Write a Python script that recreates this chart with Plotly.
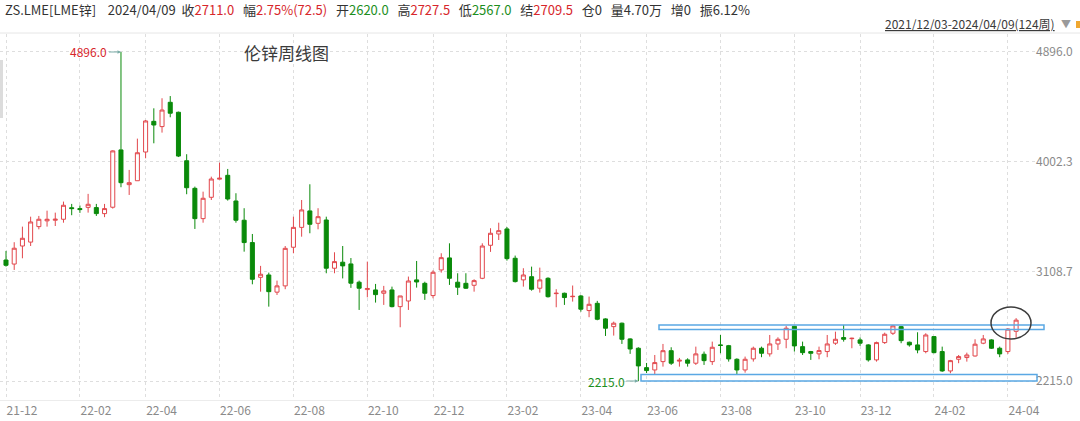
import plotly.graph_objects as go
import pandas as pd

# ---------------- data ----------------
week_dates = [d.strftime('%Y-%m-%d') for d in pd.date_range('2021-12-03', periods=123, freq='7D')] + ['2024-04-09']

open_px = [3201, 3168, 3315, 3347, 3473, 3520, 3525, 3533, 3627, 3620,
           3630, 3628, 3579, 3631, 4098, 3815, 3847, 4081, 4331, 4288,
           4486, 4405, 4010, 3785, 3538, 3712, 3860, 3891, 3682, 3525,
           3343, 3060, 3079, 2939, 2990, 3305, 3467, 3601, 3500, 3527,
           3134, 3183, 3169, 3020, 2960, 2957, 2930, 2957, 2821, 2867,
           3039, 3011, 2911, 3120, 3218, 3020, 3011, 2995, 3052, 3321,
           3413, 3454, 3215, 3039, 3065, 2971, 3052, 2927, 2930, 2902,
           2908, 2789, 2848, 2721, 2658, 2686, 2558, 2482, 2324, 2305,
           2373, 2462, 2377, 2387, 2360, 2433, 2373, 2509, 2503, 2392,
           2305, 2395, 2482, 2436, 2517, 2555, 2661, 2495, 2455, 2436,
           2455, 2523, 2569, 2560, 2550, 2509, 2387, 2528, 2604, 2658,
           2531, 2509, 2455, 2577, 2455, 2297, 2392, 2406, 2419, 2523,
           2550, 2482, 2455, 2620]
high_px = [3275, 3346, 3473, 3554, 3560, 3603, 3587, 3677, 3658, 3645,
           3740, 3658, 3658, 4095, 4896, 3935, 4190, 4342, 4437, 4519,
           4537, 4410, 4063, 3799, 3758, 3880, 3994, 3943, 3745, 3623,
           3413, 3153, 3098, 3033, 3315, 3554, 3690, 3818, 3623, 3554,
           3264, 3315, 3217, 3033, 3188, 3006, 2990, 2984, 2908, 3066,
           3193, 3024, 3117, 3256, 3337, 3093, 3093, 3044, 3337, 3460,
           3505, 3470, 3237, 3134, 3147, 3139, 3060, 2963, 2935, 2993,
           2916, 2903, 2868, 2726, 2699, 2691, 2563, 2490, 2362, 2427,
           2517, 2490, 2403, 2400, 2495, 2455, 2536, 2590, 2509, 2400,
           2414, 2495, 2495, 2590, 2571, 2664, 2664, 2536, 2460, 2495,
           2590, 2617, 2672, 2568, 2570, 2515, 2536, 2609, 2672, 2664,
           2536, 2612, 2604, 2580, 2495, 2387, 2427, 2446, 2555, 2590,
           2555, 2495, 2645, 2727.5]
low_px = [3147, 3120, 3215, 3315, 3451, 3473, 3478, 3505, 3566, 3585,
          3587, 3560, 3550, 3620, 3794, 3731, 3847, 4030, 4152, 4239,
          4364, 4040, 3737, 3454, 3505, 3690, 3857, 3685, 3505, 3269,
          3003, 2943, 2821, 2916, 2963, 3256, 3391, 3419, 3451, 3093,
          3093, 3051, 2974, 2794, 2897, 2854, 2835, 2815, 2653, 2794,
          2976, 2876, 2889, 3098, 2998, 2916, 2965, 2943, 3045, 3267,
          3364, 3196, 3018, 2984, 2951, 2935, 2895, 2816, 2835, 2862,
          2780, 2735, 2710, 2582, 2585, 2517, 2436, 2215, 2280, 2265,
          2332, 2346, 2332, 2332, 2346, 2346, 2346, 2441, 2373, 2265,
          2283, 2373, 2409, 2414, 2468, 2482, 2455, 2427, 2387, 2392,
          2409, 2509, 2536, 2482, 2501, 2373, 2373, 2517, 2590, 2523,
          2495, 2441, 2441, 2441, 2290, 2278, 2360, 2373, 2414, 2515,
          2476, 2409, 2436, 2567]
close_px = [3158, 3297, 3378, 3511, 3533, 3533, 3533, 3647, 3620, 3612,
            3655, 3579, 3620, 4090, 3831, 3831, 4075, 4334, 4301, 4423,
            4397, 4048, 3790, 3538, 3704, 3861, 3867, 3698, 3525, 3343,
            3044, 3085, 2943, 2990, 3296, 3467, 3609, 3492, 3554, 3134,
            3188, 3153, 3012, 2971, 2969, 2919, 2949, 2821, 2908, 3030,
            3022, 2930, 3101, 3220, 3052, 2979, 2971, 3033, 3315, 3419,
            3440, 3212, 3025, 3079, 2963, 3039, 2902, 2930, 2895, 2905,
            2800, 2840, 2718, 2645, 2686, 2555, 2476, 2338, 2300, 2365,
            2462, 2360, 2384, 2360, 2436, 2381, 2490, 2505, 2395, 2305,
            2392, 2482, 2441, 2517, 2555, 2645, 2501, 2446, 2441, 2463,
            2517, 2555, 2555, 2563, 2523, 2387, 2528, 2596, 2664, 2544,
            2509, 2468, 2590, 2446, 2297, 2381, 2414, 2427, 2515, 2558,
            2482, 2436, 2638, 2711]

tick_dates = ['2021-12-03', '2022-02-04', '2022-04-01', '2022-06-03', '2022-08-05',
              '2022-10-07', '2022-12-02', '2023-02-03', '2023-04-07', '2023-06-02',
              '2023-08-04', '2023-10-06', '2023-12-01', '2024-02-02', '2024-04-05']
tick_labels = ['21-12', '22-02', '22-04', '22-06', '22-08', '22-10', '22-12', '23-02',
               '23-04', '23-06', '23-08', '23-10', '23-12', '24-02', '24-04']
price_ticks = [2215.0, 3108.7, 4002.3, 4896.0]
price_tick_labels = ['2215.0', '3108.7', '4002.3', '4896.0']

title_text = '伦锌周线图'
header_fields = [('收', '2711.0', 'up'), ('幅', '2.75%(72.5)', 'up'), ('开', '2620.0', 'down'),
                 ('高', '2727.5', 'up'), ('低', '2567.0', 'down'), ('结', '2709.5', 'up'),
                 ('仓', '0', 'flat'), ('量', '4.70万', 'flat'), ('增', '0', 'flat'), ('振', '6.12%', 'flat')]
period_text = '2021/12/03-2024/04/09(124周)'

# ---------------- style ----------------
RED = '#e2474c'
GREEN = '#0a8a0a'
TXT_RED = '#d7262b'
TXT_GREEN = '#1d8e1d'
GRID = '#dedede'
FONT = 'Noto Sans CJK SC, Noto Sans, sans-serif'

W, H = 1080, 421
ML, MR, MT, MB = 0, 45, 34, 21
PW = W - ML - MR
PH = H - MT - MB


def px_x(px):
    return (px - ML) / PW


def px_y(py):
    return (H - MB - py) / PH


fig = go.Figure()
fig.add_trace(go.Candlestick(
    x=week_dates, open=open_px, high=high_px, low=low_px, close=close_px,
    increasing=dict(line=dict(color=RED, width=1), fillcolor='white'),
    decreasing=dict(line=dict(color=GREEN, width=1), fillcolor=GREEN),
    whiskerwidth=0, showlegend=False, hoverinfo='skip'))

color_map = {'up': TXT_RED, 'down': TXT_GREEN, 'flat': '#333333'}
nb = '\u00a0'
header = f"ZS.LME[LME锌]{nb*4}2024/04/09{nb*2}"
header += (nb * 3).join(
    f"{lab}<span style='color:{color_map[c]}'>{val}</span>" for lab, val, c in header_fields)

annotations = [
    dict(x=week_dates[14], y=4896.0, xref='x', yref='y', text='4896.0', showarrow=True,
         ax=-32, ay=0, arrowhead=2, arrowsize=0.7, arrowwidth=1, arrowcolor='#79aba6',
         standoff=0, font=dict(family=FONT, size=12, color=TXT_RED)),
    dict(x=week_dates[77], y=2215.0, xref='x', yref='y', text='2215.0', showarrow=True,
         ax=-32, ay=0, arrowhead=2, arrowsize=0.7, arrowwidth=1, arrowcolor='#79aba6',
         standoff=0, font=dict(family=FONT, size=12, color=TXT_GREEN)),
    dict(x=px_x(286), y=px_y(53), xref='paper', yref='paper', text=title_text, showarrow=False,
         xanchor='center', yanchor='middle', font=dict(family=FONT, size=17, color='#3a3a3a')),
    dict(x=px_x(3), y=px_y(9), xref='paper', yref='paper', text=header, showarrow=False,
         xanchor='left', yanchor='middle', font=dict(family=FONT, size=13, color='#333333')),
    dict(x=px_x(1057), y=px_y(24), xref='paper', yref='paper', text=f"<u>{period_text}</u>",
         showarrow=False, xanchor='right', yanchor='middle',
         font=dict(family=FONT, size=12, color='#3a3a3a')),
    dict(x=px_x(1066), y=px_y(23), xref='paper', yref='paper', text='▼', showarrow=False,
         xanchor='center', yanchor='middle', font=dict(family=FONT, size=10, color='#9a9a9a')),
]

shapes = [
    dict(type='line', xref='paper', yref='paper', x0=0, x1=px_x(W), y0=px_y(33), y1=px_y(33),
         line=dict(color='#e6e6e6', width=1)),
    dict(type='rect', xref='paper', yref='paper', x0=0, x1=px_x(3), y0=px_y(118), y1=px_y(60),
         line=dict(width=0), fillcolor='#dcdcdc'),
    dict(type='rect', xref='paper', yref='paper', x0=px_x(1076), x1=px_x(1080), y0=px_y(28), y1=px_y(21),
         line=dict(width=0), fillcolor='#f0a830'),
    dict(type='rect', xref='paper', yref='y', x0=px_x(659), x1=px_x(1044), y0=2635, y1=2672,
         line=dict(color='#5aa8e4', width=1.5), fillcolor='rgba(0,0,0,0)'),
    dict(type='rect', xref='paper', yref='y', x0=px_x(641), x1=px_x(1037), y0=2215, y1=2268,
         line=dict(color='#5aa8e4', width=1.5), fillcolor='rgba(0,0,0,0)'),
    dict(type='circle', xref='paper', yref='y', x0=px_x(991), x1=px_x(1031), y0=2558, y1=2818,
         line=dict(color='#3d3d3d', width=1.5), fillcolor='rgba(0,0,0,0)'),
]

fig.update_layout(
    width=W, height=H,
    margin=dict(l=ML, r=MR, t=MT, b=MB, pad=0),
    paper_bgcolor='white', plot_bgcolor='white',
    font=dict(family=FONT, size=12, color='#888888'),
    showlegend=False,
    annotations=annotations,
    shapes=shapes,
    xaxis=dict(type='category', range=[-0.73, 125.3], rangeslider=dict(visible=False),
               tickmode='array', tickvals=tick_dates, ticktext=tick_labels,
               showgrid=True, gridcolor=GRID, griddash='dot', gridwidth=1,
               ticks='', ticklabelshift=16, tickfont=dict(family=FONT, size=12, color='#8a8a8a'),
               showline=True, linecolor='#ececec', linewidth=1, zeroline=False, fixedrange=True),
    yaxis=dict(side='right', range=[2060.2, 5042.6], tickmode='array',
               tickvals=price_ticks, ticktext=price_tick_labels,
               showgrid=True, gridcolor=GRID, griddash='dot', gridwidth=1,
               ticks='', tickfont=dict(family=FONT, size=12, color='#8a8a8a'),
               showline=False, zeroline=False, fixedrange=True),
)

fig.write_html("out.html", config={'displayModeBar': False},
               post_script="document.body.style.margin='0';")
